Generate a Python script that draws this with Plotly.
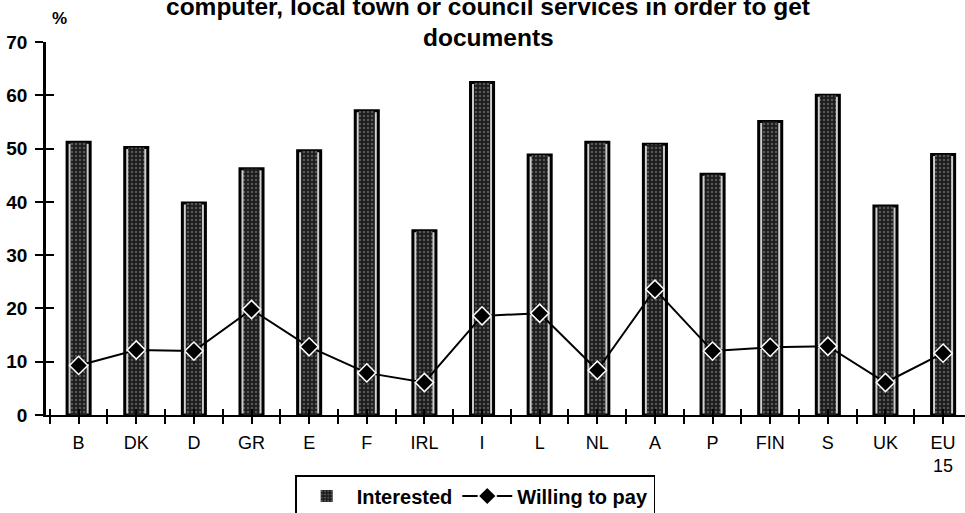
import plotly.graph_objects as go

countries = ["B", "DK", "D", "GR", "E", "F", "IRL", "I", "L", "NL", "A", "P", "FIN", "S", "UK", "EU<br>15"]
interested = [51.2, 50.2, 39.8, 46.2, 49.6, 57.1, 34.6, 62.4, 48.8, 51.2, 50.8, 45.2, 55.1, 60.0, 39.2, 48.9]
willing_to_pay = [9.3, 12.2, 12.0, 19.8, 12.8, 7.9, 6.1, 18.6, 19.1, 8.4, 23.6, 12.0, 12.7, 12.9, 6.1, 11.6]

title_line1 = "computer, local town or council services in order to get"
title_line2 = "documents"

FONT = "Liberation Sans, Arial, sans-serif"
XR = [-0.566, 15.38]
YR = [0, 70]

fig = go.Figure()

# outer bar: black outline with light inner rim
fig.add_trace(go.Bar(
    x=countries, y=interested, width=0.40, showlegend=False,
    marker=dict(color="#cfcfcf", line=dict(color="black", width=3)),
    hoverinfo="skip",
))
# inner dark textured bar
fig.add_trace(go.Bar(
    x=countries, y=interested, width=0.28, name="Interested",
    marker=dict(color="#1c1c1c",
                pattern=dict(shape=".", fgcolor="#8f8f8f", bgcolor="#1c1c1c", size=4, solidity=0.3),
                line=dict(width=0)),
))
fig.add_trace(go.Scatter(
    x=countries, y=willing_to_pay, name="Willing to pay", mode="lines+markers",
    line=dict(color="black", width=2),
    marker=dict(symbol="diamond", size=14, color="black", line=dict(color="white", width=1.5)),
))

fig.update_layout(
    width=965, height=513,
    margin=dict(l=46, r=0, t=42, b=98, autoexpand=False),
    paper_bgcolor="white", plot_bgcolor="white",
    barmode="overlay",
    font=dict(family=FONT, color="black"),
    xaxis=dict(range=XR, showgrid=False, zeroline=False, showline=True, linecolor="black",
               linewidth=2, ticks="", tickfont=dict(size=18, family=FONT), ticklabelstandoff=10),
    yaxis=dict(range=YR, dtick=10, showgrid=False, zeroline=False, showline=True, linecolor="black",
               linewidth=2.5, ticks="outside", ticklen=8, tickwidth=2, tickcolor="black",
               tickfont=dict(size=19, family=FONT, weight="bold"), ticklabelstandoff=4),
    xaxis2=dict(range=XR, overlaying="x", anchor="y", side="bottom", tick0=-0.5, dtick=0.5,
                ticks="outside", ticklen=8, tickwidth=2, tickcolor="black", showticklabels=False,
                showgrid=False, zeroline=False, showline=False),
    xaxis3=dict(range=XR, overlaying="x", anchor="y", side="bottom", tick0=-0.5, dtick=0.5,
                ticks="inside", ticklen=6, tickwidth=2, tickcolor="black", showticklabels=False,
                showgrid=False, zeroline=False, showline=False),
    yaxis2=dict(range=YR, overlaying="y", anchor="x", side="left", dtick=10,
                ticks="inside", ticklen=8, tickwidth=2, tickcolor="black", showticklabels=False,
                showgrid=False, zeroline=False, showline=False),
    legend=dict(orientation="h", x=0.467, xanchor="center", y=-0.161, yanchor="top",
                bordercolor="black", borderwidth=1.5, bgcolor="white",
                font=dict(size=20, family=FONT, weight="bold"), traceorder="normal",
                itemwidth=50),
    annotations=[
        dict(text=title_line1, xref="paper", yref="paper", x=0.481, y=1.096, xanchor="center",
             yanchor="middle", showarrow=False, font=dict(size=24.5, family=FONT, weight="bold")),
        dict(text=title_line2, xref="paper", yref="paper", x=0.481, y=1.011, xanchor="center",
             yanchor="middle", showarrow=False, font=dict(size=24.5, family=FONT, weight="bold")),
        dict(text="%", xref="paper", yref="paper", x=0.015, y=1.062, xanchor="center",
             yanchor="middle", showarrow=False, font=dict(size=17, family=FONT, weight="bold")),
    ],
)

# invisible helper traces so the overlay tick axes render
fig.add_trace(go.Scatter(x=[0], y=[0], xaxis="x2", yaxis="y", mode="markers",
                         marker=dict(opacity=0), showlegend=False, hoverinfo="skip"))
fig.add_trace(go.Scatter(x=[0], y=[0], xaxis="x3", yaxis="y2", mode="markers",
                         marker=dict(opacity=0), showlegend=False, hoverinfo="skip"))

fig.write_html("out.html", config={"displayModeBar": False},
               post_script="document.body.style.margin='0';")
